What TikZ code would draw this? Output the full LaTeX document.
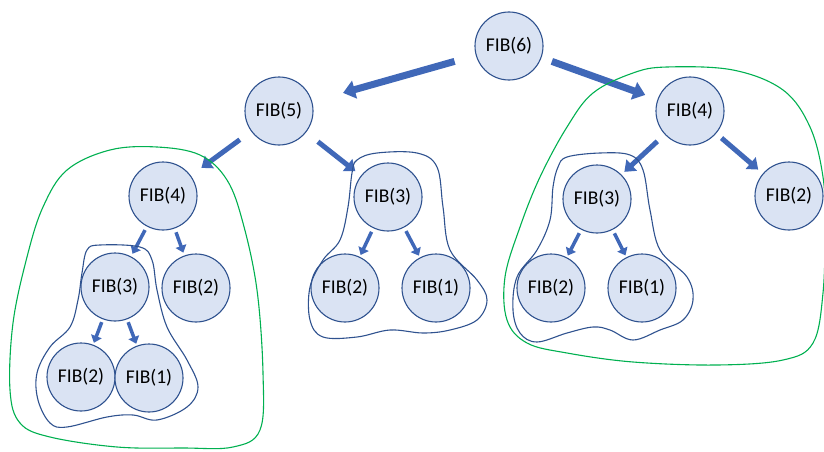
\documentclass[tikz,border=0pt]{standalone}
\usepackage{fontspec}
\setmainfont{Carlito}
\usetikzlibrary{arrows.meta}

\definecolor{fibfill}{HTML}{DAE3F3}
\definecolor{fibline}{HTML}{2F528F}
\definecolor{callblue}{HTML}{4068B8}
\definecolor{memogreen}{HTML}{00B050}

\begin{document}
\begin{tikzpicture}[
    x=1pt, y=-1pt,
    fib node/.style={
      circle,
      draw=fibline,
      fill=fibfill,
      line width=1.1pt,
      inner sep=0pt,
      minimum size=68pt,
      font=\fontsize{19.5}{21}\selectfont,
    },
    big call/.style={
      draw=callblue,
      line width=7pt,
      -{Triangle[length=12pt,width=18pt]},
    },
    mid call/.style={
      draw=callblue,
      line width=5pt,
      -{Triangle[length=10pt,width=15pt]},
    },
    small call/.style={
      draw=callblue,
      line width=3.5pt,
      -{Triangle[length=7pt,width=11pt]},
    },
    memo blob/.style={draw=memogreen, line width=1.1pt},
    sub blob/.style={draw=fibline, line width=1.1pt},
  ]
  \useasboundingbox (0,0) rectangle (824,452);

  % call tree
  \node[fib node] (fib6)    at (509,46)  {FIB(6)};
  \node[fib node] (fib5)    at (279,111) {FIB(5)};
  \node[fib node] (fib4-l)  at (163,196) {FIB(4)};
  \node[fib node] (fib3-l)  at (115,287) {FIB(3)};
  \node[fib node] (fib2-l)  at (196,288) {FIB(2)};
  \node[fib node] (fib2-ll) at (81,377)  {FIB(2)};
  \node[fib node] (fib1-ll) at (149,378) {FIB(1)};
  \node[fib node] (fib3-m)  at (388,197) {FIB(3)};
  \node[fib node] (fib2-m)  at (345,288) {FIB(2)};
  \node[fib node] (fib1-m)  at (436,288) {FIB(1)};
  \node[fib node] (fib4-r)  at (690,111) {FIB(4)};
  \node[fib node] (fib2-r)  at (789,196) {FIB(2)};
  \node[fib node] (fib3-r)  at (597,199) {FIB(3)};
  \node[fib node] (fib2-rr) at (551,288) {FIB(2)};
  \node[fib node] (fib1-rr) at (642,288) {FIB(1)};

  % calls
  \draw[big call, shorten <=22pt, shorten >=32pt] (fib6) -- (fib5);
  \draw[big call, shorten <=11pt, shorten >=13pt] (fib6) -- (fib4-r);
  \draw[mid call, shorten <=14pt, shorten >=13pt] (fib5) -- (fib4-l);
  \draw[mid call, shorten <=15pt, shorten >=7pt]  (fib5) -- (fib3-m);
  \draw[mid call, shorten <=10pt, shorten >=4pt]  (fib4-r) -- (fib3-r.north east);
  \draw[mid call, shorten <=7pt,  shorten >=6pt]  (fib4-r) -- (fib2-r);
  \draw[small call, shorten <=4pt, shorten >=3pt] (fib4-l) -- (fib3-l);
  \draw[small call, shorten <=4pt, shorten >=3pt] (fib4-l) -- (fib2-l);
  \draw[small call, shorten <=3pt, shorten >=2pt] (fib3-l) -- (fib2-ll);
  \draw[small call, shorten <=3pt, shorten >=2pt] (fib3-l) -- (fib1-ll);
  \draw[small call, shorten <=4pt, shorten >=2pt] (fib3-m) -- (fib2-m);
  \draw[small call, shorten <=4pt, shorten >=2pt] (fib3-m) -- (fib1-m);
  \draw[small call, shorten <=4pt, shorten >=2pt] (fib3-r) -- (fib2-rr);
  \draw[small call, shorten <=4pt, shorten >=2pt] (fib3-r) -- (fib1-rr);

  % sub-problems
  \draw[sub blob] plot[smooth cycle, tension=0.6] coordinates {
    (100,245) (140,247) (152,260) (157,290) (167,327) (187,360) (198,387)
    (187,407) (157,420) (133,415) (107,417) (67,427) (50,423) (38,400)
    (37,373) (50,347) (70,327) (78,300) (82,273) (87,250)};
  \draw[sub blob] plot[smooth cycle, tension=0.6] coordinates {
    (357,160) (377,153) (417,153) (437,167) (443,207) (450,250) (477,280)
    (487,300) (477,320) (450,330) (423,333) (390,330) (357,337) (323,337)
    (310,320) (310,287) (323,260) (340,240) (348,207) (352,173)};
  \draw[sub blob] plot[smooth cycle, tension=0.6] coordinates {
    (567,157) (600,153) (630,155) (643,170) (650,210) (660,250) (687,277)
    (693,300) (683,320) (660,330) (633,340) (610,330) (593,327) (567,333)
    (537,342) (520,333) (513,310) (517,277) (537,250) (550,220) (553,187)
    (558,167)};

  % memoised
  \draw[memo blob] plot[smooth cycle, tension=0.6] coordinates {
    (200,155) (157,147) (110,150) (67,170) (43,207) (27,257) (13,323)
    (10,390) (20,423) (50,437) (117,447) (183,448) (233,447) (260,430)
    (263,373) (257,290) (243,223) (227,180)};
  \draw[memo blob] plot[smooth cycle, tension=0.6] coordinates {
    (633,73) (667,67) (733,70) (783,90) (810,127) (823,177) (825,227)
    (823,293) (813,343) (783,360) (717,365) (633,362) (567,353) (527,343)
    (507,320) (505,277) (520,227) (540,177) (567,127) (593,93)};
\end{tikzpicture}
\end{document}
